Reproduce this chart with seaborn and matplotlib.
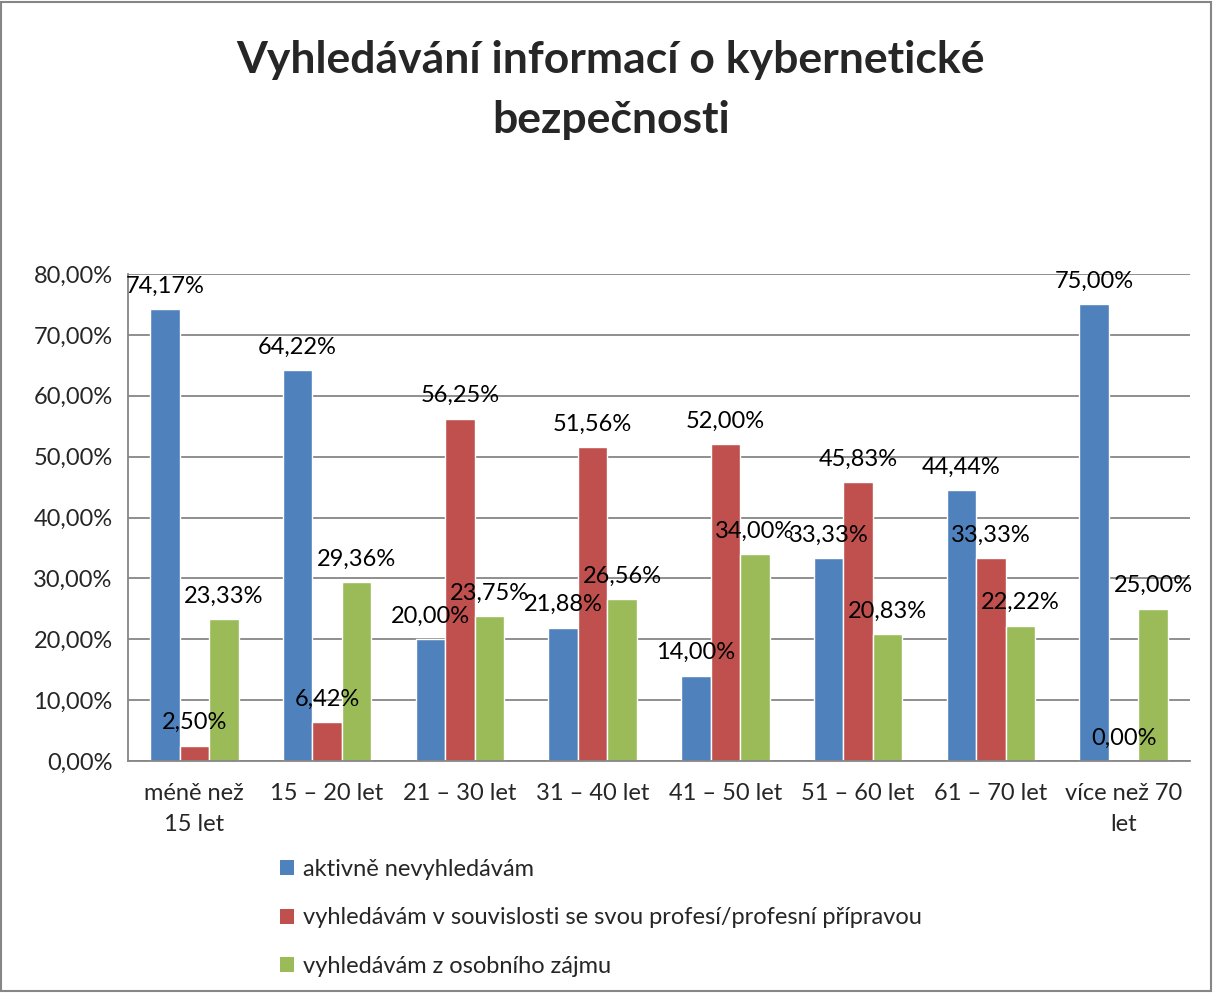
import numpy as np
import pandas as pd
import matplotlib
matplotlib.use("Agg")
import matplotlib.pyplot as plt
import seaborn as sns
from matplotlib.patches import Rectangle, Patch
from matplotlib.ticker import FuncFormatter

# --- data ---
categories = ["méně než\n15 let", "15 – 20 let", "21 – 30 let", "31 – 40 let",
              "41 – 50 let", "51 – 60 let", "61 – 70 let", "více než 70\nlet"]
series = ["aktivně nevyhledávám",
          "vyhledávám v souvislosti se svou profesí/profesní přípravou",
          "vyhledávám z osobního zájmu"]
aktivne = [74.17, 64.22, 20.00, 21.88, 14.00, 33.33, 44.44, 75.00]
profese = [2.50, 6.42, 56.25, 51.56, 52.00, 45.83, 33.33, 0.00]
zajem = [23.33, 29.36, 23.75, 26.56, 34.00, 20.83, 22.22, 25.00]
colors = ["#4F81BD", "#C0504D", "#9BBB59"]
title = "Vyhledávání informací o kybernetické\nbezpečnosti"

df = pd.DataFrame({
    "kategorie": categories * 3,
    "serie": [series[0]] * 8 + [series[1]] * 8 + [series[2]] * 8,
    "hodnota": aktivne + profese + zajem,
})

sns.set_style("white")
plt.rcParams["font.family"] = ["Lato", "DejaVu Sans"]
grid_c = "#868686"
fs = 17

fig = plt.figure(figsize=(12.13, 9.93), dpi=100)
ax = fig.add_axes([128 / 1213, 1 - 761 / 993, (1190 - 128) / 1213, (761 - 274) / 993])

sns.barplot(data=df, x="kategorie", y="hodnota", hue="serie", palette=colors,
            width=0.667, gap=0, saturation=1, ax=ax, legend=False)

def pct(v):
    return f"{v:.2f}".replace(".", ",") + "%"

for cont in ax.containers:
    ax.bar_label(cont, labels=[pct(b.get_height()) for b in cont],
                 padding=9, fontsize=fs, color="black")

ax.set_ylim(0, 80)
ax.set_yticks(np.arange(0, 81, 10))
ax.yaxis.set_major_formatter(FuncFormatter(lambda v, p: pct(v)))
ax.yaxis.grid(True, color=grid_c, linewidth=1.3)
ax.set_axisbelow(True)
ax.set_xlim(-0.5, 7.5)
ax.set_xticks(np.arange(9) - 0.5)
ax.set_xticklabels([""] * 9)
ax.set_xticks(np.arange(8), minor=True)
ax.set_xticklabels(categories, minor=True, fontsize=fs, linespacing=1.6)
ax.tick_params(axis="x", which="major", length=7, color=grid_c, width=1.3, direction="out")
ax.tick_params(axis="x", which="minor", length=0, pad=16)
ax.tick_params(axis="y", length=7, color=grid_c, width=1.3, direction="out", labelsize=fs, pad=4)
ax.set_xlabel("")
ax.set_ylabel("")
for s in ["top", "right"]:
    ax.spines[s].set_visible(False)
for s in ["left", "bottom"]:
    ax.spines[s].set_color(grid_c)
    ax.spines[s].set_linewidth(1.3)

fig.text(611 / 1213, 1 - 90 / 993, title, ha="center", va="center",
         fontsize=32, fontweight="bold", linespacing=1.62)

handles = [Patch(facecolor=c, edgecolor="none") for c in colors]
fig.legend(handles, series, loc="upper left", bbox_to_anchor=(259 / 1213, 1 - 838 / 993),
           frameon=False, fontsize=fs, handlelength=0.6, handleheight=0.6,
           handletextpad=0.35, labelspacing=1.15)

fig.patches.append(Rectangle((0.001, 0.002), 0.997, 0.996, transform=fig.transFigure,
                             fill=False, edgecolor=grid_c, linewidth=1.5))

fig.savefig("out.png", dpi=100)
